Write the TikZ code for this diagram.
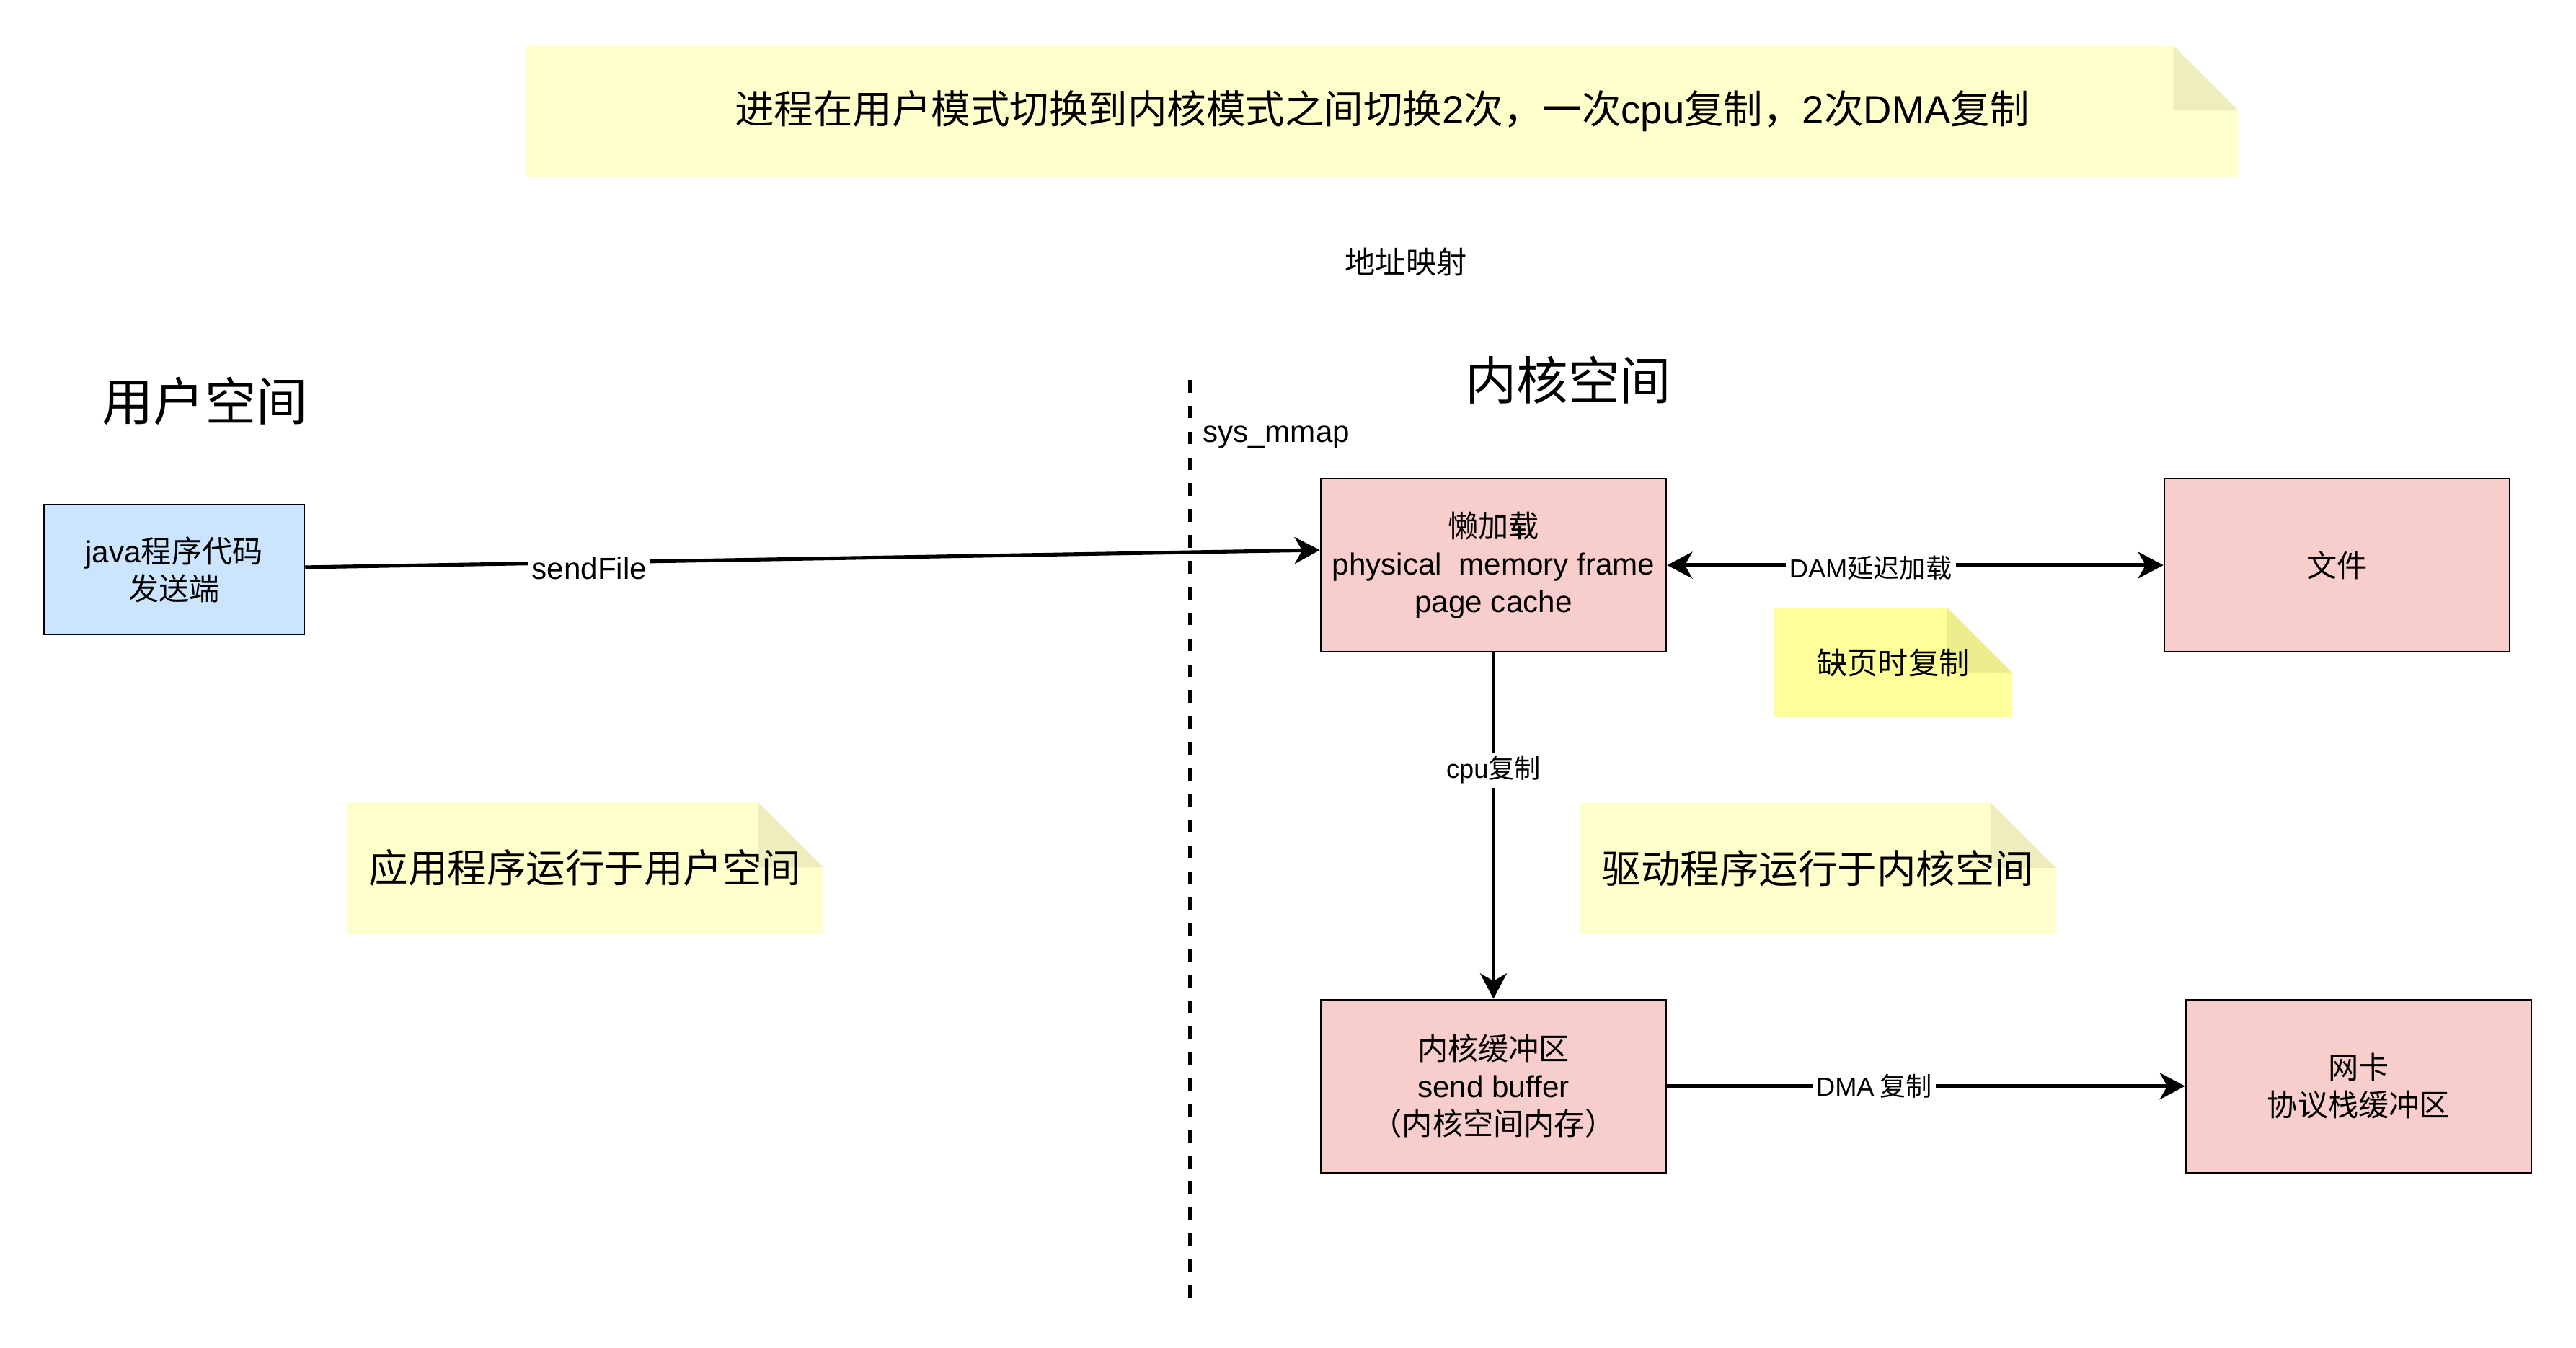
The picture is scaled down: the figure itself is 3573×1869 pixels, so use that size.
\documentclass[tikz,border=0pt]{standalone}
\usepackage{fontspec}
\setmainfont{Noto Sans CJK SC}
\newfontfamily\en{Liberation Sans}
\usetikzlibrary{arrows.meta, positioning, backgrounds}
\definecolor{userblue}{RGB}{204,229,255}
\definecolor{kernelpink}{RGB}{248,206,204}
\definecolor{notepale}{RGB}{255,255,204}
\definecolor{notebright}{RGB}{255,255,153}

\begin{document}
\begin{tikzpicture}[
  x=0.01cm, y=-0.01cm,
  box/.style={rectangle, draw=black, line width=0.65pt, fill=kernelpink,
              align=center, inner sep=0pt, minimum width=4.79cm, minimum height=2.4cm,
              font=\fontsize{12}{14.8}\selectfont},
  notetxt/.style={align=center, inner sep=0pt, minimum height=1.8cm,
                  font=\fontsize{15.5}{18}\selectfont},
  head/.style={font=\fontsize{20.3}{24}\selectfont},
  plain/.style={font=\fontsize{12}{14.8}\selectfont},
  fl/.style={-{Stealth[length=10pt, width=10.5pt, inset=3pt]}, line width=1.45pt},
  bfl/.style={{Stealth[length=10pt, width=10.5pt, inset=3pt]}-{Stealth[length=10pt, width=10.5pt, inset=3pt]}, line width=1.45pt},
  divider/.style={line width=1.7pt, dash pattern=on 5pt off 5.2pt},
  lbl/.style={fill=white, inner sep=1.5pt, font=\fontsize{10.3}{12}\selectfont}
]
\path[use as bounding box] (0,0) rectangle (3573,1869);

% notes
\node[notetxt, minimum width=23.72cm] (title) at (1917,154)
  {进程在用户模式切换到内核模式之间切换{\en 2}次，一次{\en cpu}复制，{\en 2}次{\en DMA}复制};
\node[notetxt, minimum width=6.59cm] (appnote) at (811.5,1204) {应用程序运行于用户空间};
\node[notetxt, minimum width=6.59cm] (drvnote) at (2521.5,1204.5) {驱动程序运行于内核空间};
\node[notetxt, minimum width=3.28cm, minimum height=1.5cm, font=\fontsize{12}{14.8}\selectfont]
  (faultnote) at (2626,919) {缺页时复制};
\begin{scope}[on background layer]
  \fill[white] (0,0) rectangle (3573,1869);
  \foreach \n/\c in {title/notepale, appnote/notepale, drvnote/notepale, faultnote/notebright} {
    \fill[\c] (\n.south west) -- (\n.north west) -- ([xshift=-0.9cm]\n.north east)
      -- ([yshift=-0.9cm]\n.north east) -- (\n.south east) -- cycle;
    \fill[\c!93!black] ([xshift=-0.9cm]\n.north east) -- ([xshift=-0.9cm,yshift=-0.9cm]\n.north east)
      -- ([yshift=-0.9cm]\n.north east) -- cycle;
  }
\end{scope}

% headings and loose text
\node[head] (userhd) at (284,556) {用户空间};
\node[head] (kernhd) at (2175,527) {内核空间};
\node[plain] (mapping) at (1950,363) {地址映射};
\node[plain] (mmap) at (1770,607) {\en sys\_mmap};

% user / kernel divider
\coordinate (divtop) at (1651,527);
\coordinate (divbot) at (1651,1805);
\draw[divider] (divtop) -- (divbot);

% boxes
\node[box, fill=userblue, minimum width=3.61cm, minimum height=1.8cm] (java) at (241.5,790)
  {{\en java}程序代码\\发送端};
\node[box] (lazy) at (2071.5,784) {懒加载\\{\en physical\ \ memory frame}\\{\en page cache}};
\node[box, right=6.88cm of lazy] (file) {文件};
\node[box, below=4.8cm of lazy] (sendbuf) {内核缓冲区\\{\en send buffer}\\（内核空间内存）};
\node[box, right=7.18cm of sendbuf] (nic) {网卡\\协议栈缓冲区};

% copies
\draw[fl] (java) -- node[lbl, pos=0.28, yshift=-0.08cm, font=\fontsize{12}{14}\selectfont] {\en sendFile} ([yshift=2.1mm]lazy.west);
\draw[bfl] (lazy) -- node[lbl, pos=0.41, yshift=-0.04cm] {{\en DAM}延迟加载} (file);
\draw[fl] (lazy) -- node[lbl, pos=0.34] {{\en cpu}复制} (sendbuf);
\draw[fl] (sendbuf) -- node[lbl, pos=0.4] {{\en DMA} 复制} (nic);

\end{tikzpicture}
\end{document}
